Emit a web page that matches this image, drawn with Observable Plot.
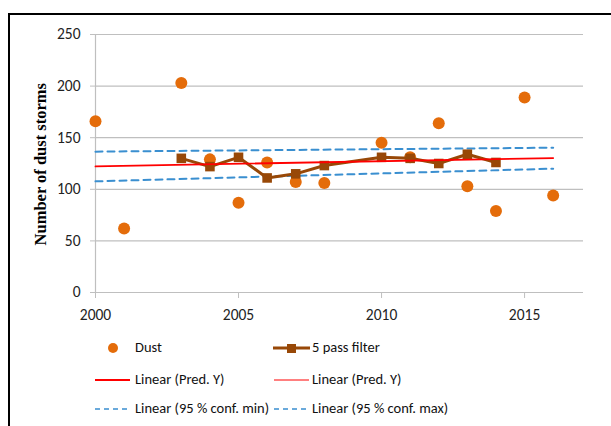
<!DOCTYPE html>
<html>
<head>
<meta charset="utf-8">
<script src="https://cdn.jsdelivr.net/npm/d3@7"></script>
<script src="https://cdn.jsdelivr.net/npm/@observablehq/plot@0.6"></script>
<style>
  html, body { margin: 0; padding: 0; background: #fff; width: 611px; height: 426px; overflow: hidden; }
  #wrap { position: relative; width: 611px; height: 426px; }
  #frame { position: absolute; left: 8px; top: 13px; width: 700px; height: 500px; border: 2px solid #000; box-sizing: border-box; }
  #chart { position: absolute; left: 0; top: 0; }
  .leg { position: absolute; font-family: Carlito, Lato, sans-serif; font-size: 14.5px; color: #111; line-height: 1; white-space: nowrap; }
  .sym { position: absolute; }
  .ylab { position: absolute; font-family: "Liberation Serif", "Times New Roman", serif; font-weight: bold; font-size: 16.5px; transform: rotate(-90deg); transform-origin: center; white-space: nowrap; line-height: 1; }
</style>
</head>
<body>
<div id="wrap">
  <div id="frame"></div>
  <div id="chart"></div>
  <div id="legend"></div>
</div>
<script>
// Data
const dustYears = [2000, 2001, 2003, 2004, 2005, 2006, 2007, 2008, 2010, 2011, 2012, 2013, 2014, 2015, 2016];
const dustValues = [166, 62, 203, 129, 87, 126, 107, 106, 145, 131, 164, 103, 79, 189, 94];
const filterYears = [2003, 2004, 2005, 2006, 2007, 2008, 2010, 2011, 2012, 2013, 2014];
const filterValues = [130, 122, 131, 111, 115, 123, 131, 130, 125, 134, 126];
const trendYears = [2000, 2016];
const predY = [122.2, 130.3];
const confMin = [107.7, 120.0];
const confMax = [136.5, 140.3];
const yTicks = [0, 50, 100, 150, 200, 250];
const xTicks = [2000, 2005, 2010, 2015];
const yTitle = "Number of dust storms";
const legendLabels = ["Dust", "5 pass filter", "Linear (Pred. Y)", "Linear (Pred. Y)", "Linear (95 % conf. min)", "Linear (95 % conf. max)"];

const ORANGE = "#E46C0A", BROWN = "#984807", RED = "#FF0000", BLUE = "#3A8FD0", GRID = "#BFBFBF";

const dust = dustYears.map((x, i) => ({x, y: dustValues[i]}));
const filt = filterYears.map((x, i) => ({x, y: filterValues[i]}));
const pred = trendYears.map((x, i) => ({x, y: predY[i]}));
const cmin = trendYears.map((x, i) => ({x, y: confMin[i]}));
const cmax = trendYears.map((x, i) => ({x, y: confMax[i]}));

const chart = Plot.plot({
  width: 611,
  height: 330,
  marginLeft: 95,
  marginRight: 28,
  marginTop: 34,
  marginBottom: 38,
  style: {fontFamily: "Carlito, Lato, sans-serif", fontSize: "15px", color: "#222", background: "transparent"},
  x: {domain: [2000, 2017.06]},
  y: {domain: [0, 250]},
  marks: [
    Plot.ruleY(yTicks.filter(d => d > 0), {x1: 2000, x2: 2017.06, stroke: GRID, strokeWidth: 1.2}),
    Plot.ruleY([0], {x1: 2000, x2: 2017.06, stroke: GRID, strokeWidth: 1.2}),
    Plot.ruleX([2000], {y1: 0, y2: 250, stroke: GRID, strokeWidth: 1.2}),
    Plot.axisY({ticks: yTicks, tickSize: 5, tickPadding: 10, stroke: GRID, label: null, fontSize: 15.5}),
    Plot.axisX({ticks: xTicks, tickSize: 6, tickPadding: 10, stroke: GRID, label: null, tickFormat: d => String(d), fontSize: 15.5}),
    Plot.line(cmax, {x: "x", y: "y", stroke: BLUE, strokeWidth: 2, strokeDasharray: "7,5"}),
    Plot.line(cmin, {x: "x", y: "y", stroke: BLUE, strokeWidth: 2, strokeDasharray: "7,5"}),
    Plot.dot(dust, {x: "x", y: "y", r: 6, fill: ORANGE, stroke: "none"}),
    Plot.line(filt, {x: "x", y: "y", stroke: BROWN, strokeWidth: 3}),
    Plot.dot(filt, {x: "x", y: "y", symbol: "square", r: 5.4, fill: BROWN, stroke: "none"}),
    Plot.line(pred, {x: "x", y: "y", stroke: RED, strokeWidth: 1.8})
  ]
});
document.getElementById("chart").appendChild(chart);

// Y title
const yl = document.createElement("div");
yl.className = "ylab";
yl.textContent = yTitle;
document.getElementById("wrap").appendChild(yl);
const w = yl.offsetWidth, h = yl.offsetHeight;
yl.style.left = (41 - w / 2) + "px";
yl.style.top = (164 - h / 2) + "px";

// Legend
const legend = document.getElementById("legend");
function addText(txt, x, yc) {
  const d = document.createElement("div");
  d.className = "leg";
  d.textContent = txt;
  d.style.left = x + "px";
  d.style.top = (yc - 8) + "px";
  legend.appendChild(d);
}
function svgSym(x, yc, w, inner) {
  const d = document.createElement("div");
  d.className = "sym";
  d.style.left = x + "px";
  d.style.top = (yc - 8) + "px";
  d.innerHTML = `<svg width="${w}" height="16">${inner}</svg>`;
  legend.appendChild(d);
}
const rows = [348, 380, 409];
svgSym(106, rows[0], 16, `<circle cx="7" cy="8" r="5" fill="${ORANGE}"/>`);
addText(legendLabels[0], 135, rows[0]);
svgSym(273, rows[0], 38, `<line x1="0" y1="8" x2="37" y2="8" stroke="${BROWN}" stroke-width="3"/><rect x="14" y="4" width="9" height="9" fill="${BROWN}"/>`);
addText(legendLabels[1], 312, rows[0]);
svgSym(95, rows[1], 36, `<line x1="0" y1="8" x2="35" y2="8" stroke="${RED}" stroke-width="2"/>`);
addText(legendLabels[2], 135, rows[1]);
svgSym(274, rows[1], 36, `<line x1="0" y1="8" x2="35" y2="8" stroke="${RED}" stroke-width="1"/>`);
addText(legendLabels[3], 312, rows[1]);
svgSym(95, rows[2], 36, `<line x1="0" y1="8" x2="35" y2="8" stroke="${BLUE}" stroke-width="1.5" stroke-dasharray="5,4"/>`);
addText(legendLabels[4], 135, rows[2]);
svgSym(274, rows[2], 36, `<line x1="0" y1="8" x2="35" y2="8" stroke="${BLUE}" stroke-width="1.5" stroke-dasharray="5,4"/>`);
addText(legendLabels[5], 312, rows[2]);
</script>
</body>
</html>
